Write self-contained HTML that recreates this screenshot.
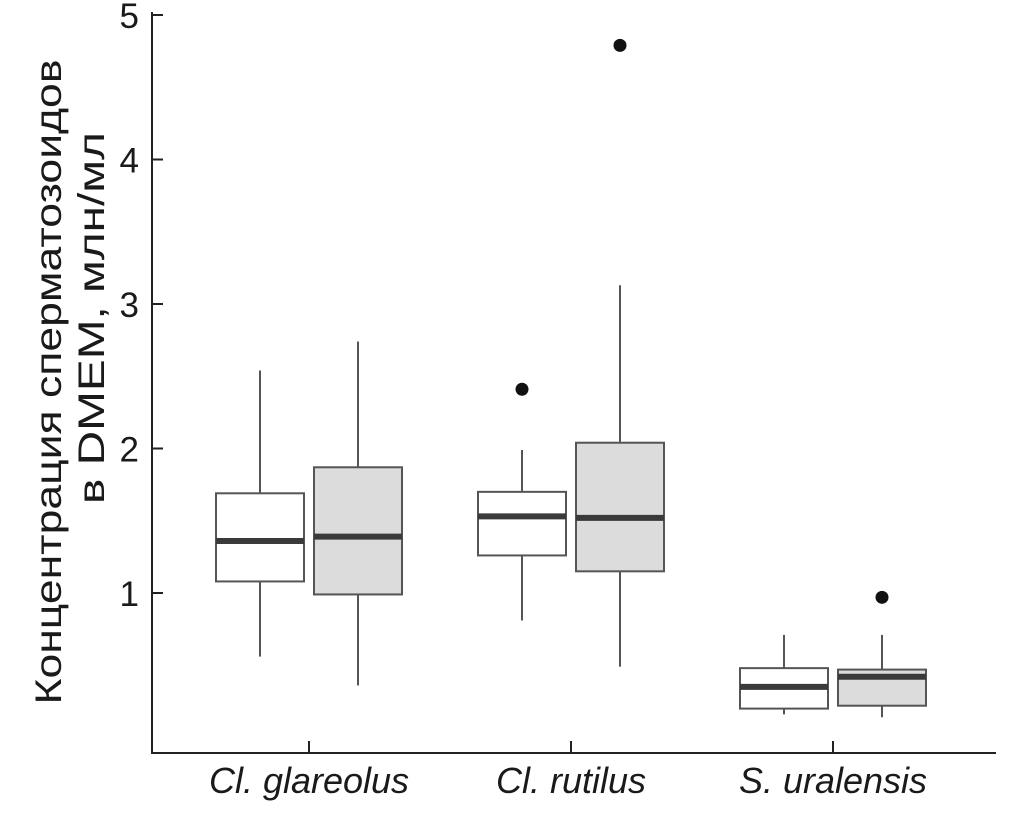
<!DOCTYPE html>
<html><head><meta charset="utf-8"><style>
html,body{margin:0;padding:0;background:#fff;}
svg{display:block;font-family:"Liberation Sans",Arial,sans-serif;}
</style></head><body>
<svg id="chart" width="1014" height="829" viewBox="0 0 1014 829" xmlns="http://www.w3.org/2000/svg">
<g id="axes"></g>
<g id="marks"></g>
<text transform="translate(61,382) rotate(-90)" text-anchor="middle" font-size="37" fill="#1a1a1a" textLength="645" lengthAdjust="spacingAndGlyphs">Концентрация сперматозоидов</text>
<text transform="translate(104,318) rotate(-90)" text-anchor="middle" font-size="37" fill="#1a1a1a" textLength="372" lengthAdjust="spacingAndGlyphs">в DMEM, млн/мл</text>
</svg>
<script>
const categories = ["Cl. glareolus", "Cl. rutilus", "S. uralensis"];
const whiteWhiskerLow = [0.56, 0.81, 0.16];
const whiteQ1 = [1.08, 1.26, 0.20];
const whiteMedian = [1.36, 1.53, 0.35];
const whiteQ3 = [1.69, 1.70, 0.48];
const whiteWhiskerHigh = [2.54, 1.99, 0.71];
const whiteOutliers = [[], [2.41], []];
const greyWhiskerLow = [0.36, 0.49, 0.14];
const greyQ1 = [0.99, 1.15, 0.22];
const greyMedian = [1.39, 1.52, 0.42];
const greyQ3 = [1.87, 2.04, 0.47];
const greyWhiskerHigh = [2.74, 3.13, 0.71];
const greyOutliers = [[], [4.79], [0.97]];
const yTicks = [1, 2, 3, 4, 5];

const NS = "http://www.w3.org/2000/svg";
const y = v => 737.5 - v * 144.5;
const xc = i => 309 + i * 262;
const axes = document.getElementById('axes');
const marks = document.getElementById('marks');
function mk(tag, attrs, parent) {
  const e = document.createElementNS(NS, tag);
  for (const k in attrs) e.setAttribute(k, attrs[k]);
  parent.appendChild(e);
  return e;
}
let l = mk('line', {x1:152, y1:12, x2:152, y2:753, stroke:'#222', 'stroke-width':2}, axes);


l = mk('line', {x1:151, y1:753, x2:996, y2:753, stroke:'#222', 'stroke-width':2}, axes);


yTicks.forEach(t => {
  const tk = mk('line', {x1:152, y1:y(t), x2:163, y2:y(t), stroke:'#222', 'stroke-width':2}, axes);
  
  
  const tx = mk('text', {x:139, y:y(t)+13, 'text-anchor':'end', 'font-size':35, fill:'#1a1a1a'}, axes);
  tx.textContent = t;
  
  
});
categories.forEach((c, i) => {
  const tk = mk('line', {x1:xc(i), y1:741, x2:xc(i), y2:753, stroke:'#222', 'stroke-width':2}, axes);
  
  
  const tx = mk('text', {x:xc(i), y:793, 'text-anchor':'middle', 'font-size':36, 'font-style':'italic', fill:'#1a1a1a'}, axes);
  tx.textContent = c;
  
  
});
function box(cx, lo, q1, md, q3, hi, outs, fill, name) {
  const g = mk('g', {}, marks);
  
  
  mk('line', {x1:cx, y1:y(hi), x2:cx, y2:y(q3), stroke:'#555', 'stroke-width':2}, g);
  mk('line', {x1:cx, y1:y(q1), x2:cx, y2:y(lo), stroke:'#555', 'stroke-width':2}, g);
  mk('rect', {x:cx-44, y:y(q3), width:88, height:y(q1)-y(q3), fill:fill, stroke:'#555', 'stroke-width':2}, g);
  mk('line', {x1:cx-44, y1:y(md), x2:cx+44, y2:y(md), stroke:'#3a3a3a', 'stroke-width':6}, g);
  outs.forEach(o => {
    const c = mk('circle', {cx:cx, cy:y(o), r:6.5, fill:'#111'}, g);
    
    
  });
}
categories.forEach((c, i) => {
  box(xc(i)-49, whiteWhiskerLow[i], whiteQ1[i], whiteMedian[i], whiteQ3[i], whiteWhiskerHigh[i], whiteOutliers[i], '#fff', 'box-white');
  box(xc(i)+49, greyWhiskerLow[i], greyQ1[i], greyMedian[i], greyQ3[i], greyWhiskerHigh[i], greyOutliers[i], '#dcdcdc', 'box-grey');
});
</script>
</body></html>
